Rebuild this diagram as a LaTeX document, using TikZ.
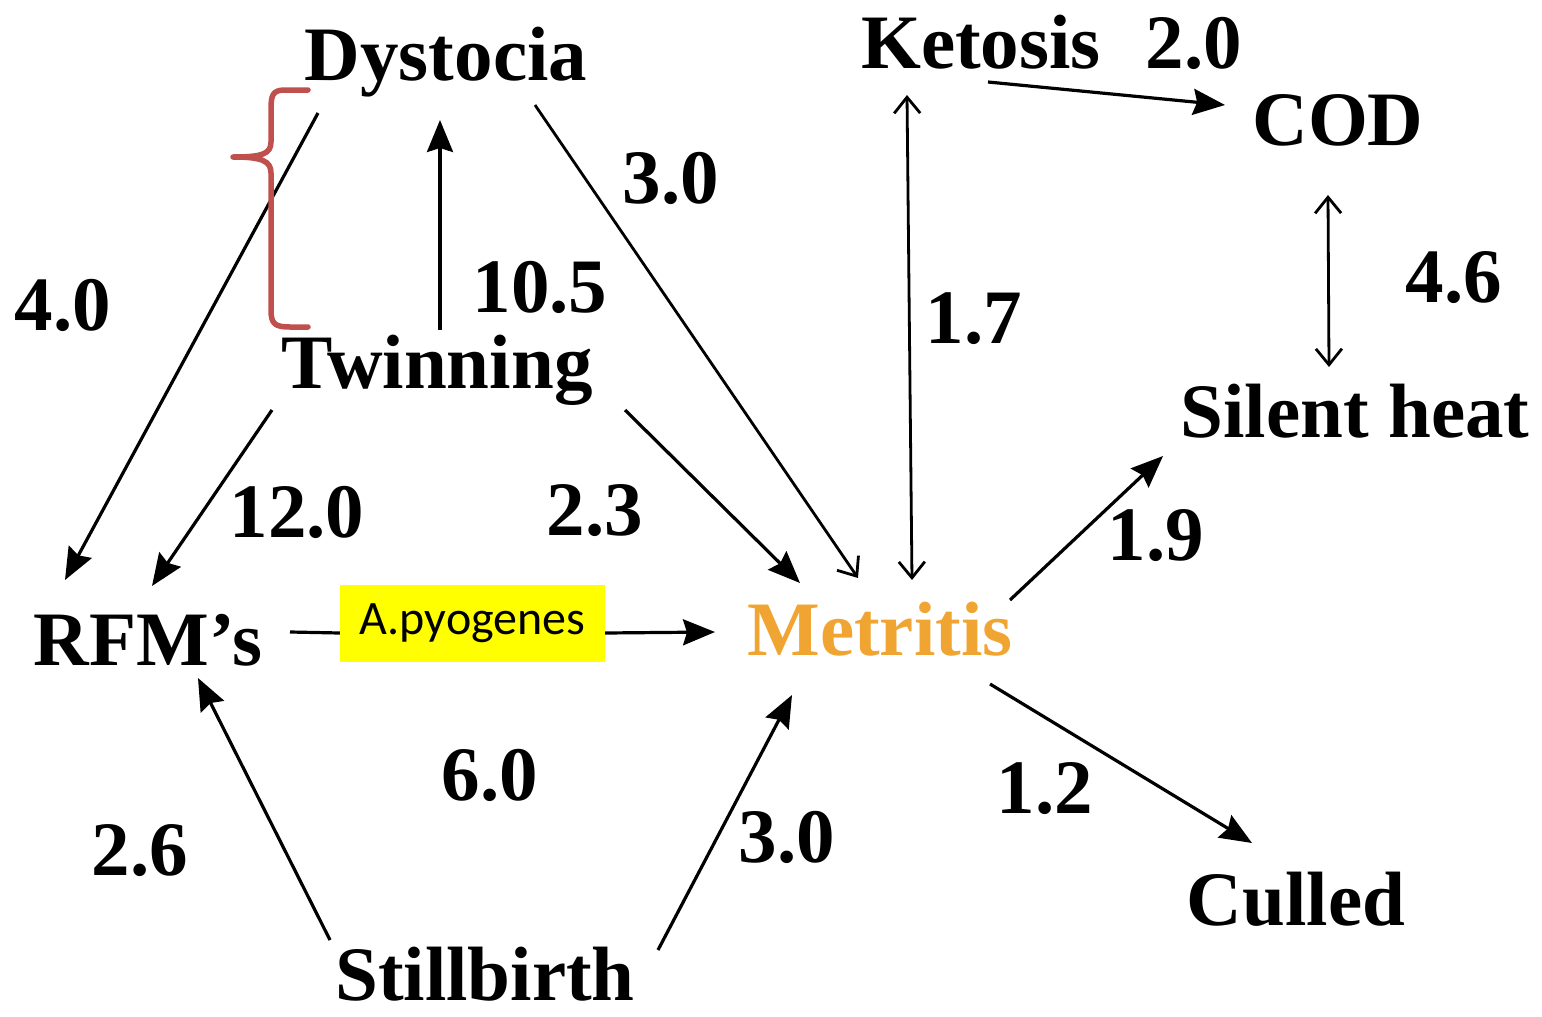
\documentclass[tikz,border=0pt]{standalone}
\usepackage{fontspec}
\setmainfont{Liberation Serif}
\newfontfamily\apyfont{Carlito}
\usetikzlibrary{arrows.meta}
\definecolor{metorange}{RGB}{240,165,50}
\definecolor{bracered}{RGB}{192,80,77}
\definecolor{apyyellow}{RGB}{255,255,0}
\begin{document}
\begin{tikzpicture}[x=1pt,y=-1pt,
  lbl/.style={anchor=base,inner sep=0pt,font=\fontsize{77}{90}\selectfont\bfseries},
  conn/.style={line width=3.2pt,-{Stealth[length=32pt,width=26pt,inset=4pt]}},
  openconn/.style={line width=2.8pt,-{Straight Barb[length=16pt,width=26pt,line width=2.8pt]}},
  bothopen/.style={line width=2.8pt,{Straight Barb[length=16pt,width=26pt,line width=2.8pt]}-{Straight Barb[length=16pt,width=26pt,line width=2.8pt]}},
  plain/.style={line width=3.2pt}
]
\useasboundingbox (0,0) rectangle (1542,1017);
% main nodes
\node[lbl] (dys) at (446,80) {Dystocia};
\node[lbl] (twin) at (437,388) {Twinning};
\node[lbl] (ket) at (981,68) {Ketosis};
\node[lbl] (cod) at (1338,145) {COD};
\node[lbl] (silent) at (1355,437) {Silent heat};
\node[lbl] (rfm) at (148,665) {RFM’s};
\node[lbl,text=metorange] (met) at (880,655) {Metritis};
\node[lbl] (culled) at (1296,925) {Culled};
\node[lbl] (still) at (485,1000) {Stillbirth};
\node[fill=apyyellow,minimum width=265pt,minimum height=77pt,inner sep=0pt,font=\apyfont\fontsize{48}{56}\selectfont] (apy) at (472.5,623.5) {A.pyogenes};
% value labels
\node[lbl] (l40) at (63,330) {4.0};
\node[lbl] (l105) at (540,312) {10.5};
\node[lbl] (l30a) at (671,203) {3.0};
\node[lbl] (l17) at (974,343) {1.7};
\node[lbl] (l20) at (1194,68) {2.0};
\node[lbl] (l46) at (1454,302) {4.6};
\node[lbl] (l120) at (297,537) {12.0};
\node[lbl] (l23) at (595,535) {2.3};
\node[lbl] (l19) at (1156,560) {1.9};
\node[lbl] (l60) at (490,800) {6.0};
\node[lbl] (l12) at (1045,813) {1.2};
\node[lbl] (l26) at (140,875) {2.6};
\node[lbl] (l30b) at (787,862) {3.0};
% connectors
\draw[conn] ([shift={(-128,33)}]dys.base) -- ([shift={(-83,-85)}]rfm.base);
\draw[conn] ([shift={(3,-58)}]twin.base) -- ([shift={(-6,40)}]dys.base);
\draw[openconn] ([shift={(89,25)}]dys.base) -- ([shift={(-22,-77)}]met.base);
\draw[conn] ([shift={(-165,22)}]twin.base) -- ([shift={(4,-79)}]rfm.base);
\draw[conn] ([shift={(188,22)}]twin.base) -- ([shift={(-80,-72)}]met.base);
\draw[bothopen] ([shift={(-74,27)}]ket.base) -- ([shift={(32,-75)}]met.base);
\draw[conn] ([shift={(7,14)}]ket.base) -- ([shift={(-113,-40)}]cod.base);
\draw[bothopen] ([shift={(-10,50)}]cod.base) -- ([shift={(-26,-70)}]silent.base);
\draw[conn] ([shift={(130,-55)}]met.base) -- ([shift={(-192,19)}]silent.base);
\draw[plain] ([shift={(142,-33)}]rfm.base) -- ([yshift=-9.5pt]apy.west);
\draw[conn] ([yshift=-9.5pt]apy.east) -- ([shift={(-165,-23)}]met.base);
\draw[conn] ([shift={(110,29)}]met.base) -- ([shift={(-44,-82)}]culled.base);
\draw[conn] ([shift={(-155,-60)}]still.base) -- ([shift={(50,13)}]rfm.base);
\draw[conn] ([shift={(173,-50)}]still.base) -- ([shift={(-88,40)}]met.base);
% brace
\draw[bracered,line width=5.5pt,line cap=round,line join=round]
  (308,90) -- (285,90) .. controls (272,90) and (271,96) .. (271,110)
  -- (271,142) .. controls (271,154) and (262,157) .. (233,157)
  .. controls (262,157) and (271,161) .. (271,173)
  -- (271,310) .. controls (271,324) and (275,327) .. (290,327) -- (308,327);
\end{tikzpicture}
\end{document}
